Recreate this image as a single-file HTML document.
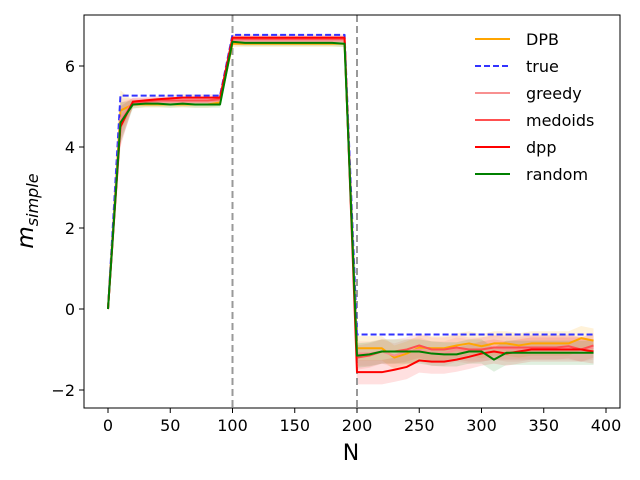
<!DOCTYPE html>
<html><head><meta charset="utf-8"><style>body{margin:0;background:#fff}svg{display:block;font-family:"DejaVu Sans","Liberation Sans",sans-serif}</style></head>
<body>
<svg id="c" width="640" height="480"></svg>
<script>
const xs=[];for(let i=0;i<40;i++)xs.push(i*10);
const trueVals=[0,5.27,5.27,5.27,5.27,5.27,5.27,5.27,5.27,5.27,6.77,6.77,6.77,6.77,6.77,6.77,6.77,6.77,6.77,6.77,-0.63,-0.63,-0.63,-0.63,-0.63,-0.63,-0.63,-0.63,-0.63,-0.63,-0.63,-0.63,-0.63,-0.63,-0.63,-0.63,-0.63,-0.63,-0.63,-0.63];
const dpbVals=[0,4.9,5.05,5.05,5.05,5.05,5.05,5.05,5.05,5.1,6.55,6.55,6.55,6.55,6.55,6.55,6.55,6.55,6.55,6.55,-0.97,-0.97,-0.97,-1.2,-1.1,-0.95,-0.97,-0.97,-0.9,-0.85,-0.92,-0.85,-0.85,-0.9,-0.85,-0.85,-0.85,-0.85,-0.72,-0.78];
const greedyVals=[0,4.7,5.1,5.12,5.12,5.12,5.12,5.12,5.12,5.15,6.65,6.63,6.63,6.63,6.63,6.63,6.63,6.63,6.63,6.63,-1.1,-1.1,-1.05,-1.15,-1.05,-1.0,-1.1,-1.1,-1.0,-1.05,-1.0,-0.95,-1.0,-1.0,-0.95,-0.95,-0.95,-0.95,-1.0,-0.95];
const medoidsVals=[0,4.6,5.1,5.12,5.15,5.15,5.15,5.15,5.15,5.18,6.68,6.67,6.67,6.67,6.67,6.67,6.67,6.67,6.67,6.67,-1.2,-1.15,-1.05,-1.05,-1.0,-0.9,-1.0,-1.0,-0.95,-1.0,-1.0,-0.95,-0.95,-0.95,-0.95,-0.95,-0.95,-0.92,-1.0,-0.9];
const dppVals=[0,4.5,5.12,5.15,5.18,5.2,5.22,5.22,5.22,5.22,6.7,6.7,6.7,6.7,6.7,6.7,6.7,6.7,6.7,6.7,-1.56,-1.56,-1.56,-1.5,-1.43,-1.27,-1.3,-1.3,-1.25,-1.18,-1.1,-1.05,-1.1,-1.05,-1.0,-1.0,-1.0,-1.0,-1.0,-1.05];
const randomVals=[0,4.6,5.05,5.07,5.07,5.05,5.07,5.05,5.05,5.05,6.6,6.57,6.57,6.57,6.57,6.57,6.57,6.57,6.57,6.55,-1.15,-1.12,-1.05,-1.05,-1.05,-1.05,-1.1,-1.12,-1.12,-1.05,-1.05,-1.25,-1.08,-1.08,-1.08,-1.08,-1.08,-1.08,-1.08,-1.08];
const spreadVals=[0,0.5,0.1,0.08,0.08,0.08,0.08,0.08,0.08,0.08,0.08,0.08,0.08,0.08,0.08,0.08,0.08,0.08,0.08,0.08,0.3,0.3,0.3,0.3,0.3,0.3,0.3,0.3,0.3,0.3,0.3,0.3,0.3,0.3,0.3,0.3,0.3,0.3,0.3,0.3];
const xTicks=[0,50,100,150,200,250,300,350,400];
const yTicks=[-2,0,2,4,6];
const vlines=[100,200];
const NS="http://www.w3.org/2000/svg",svg=document.getElementById('c');
const L=84,R=620,T=15,B=408;
const X=v=>108+v*1.245, Y=v=>309-v*40.5;
function el(t,a,p){const e=document.createElementNS(NS,t);for(const k in a)e.setAttribute(k,a[k]);(p||svg).appendChild(e);return e;}
const pts=a=>a.map((v,i)=>X(xs[i])+','+Y(v)).join(' ');
function band(a,col,op,nm){let up=a.map((v,i)=>X(xs[i])+','+Y(v+spreadVals[i])),dn=a.map((v,i)=>X(xs[i])+','+Y(v-spreadVals[i])).reverse();
const p=el('polygon',{points:up.concat(dn).join(' '),fill:col,'fill-opacity':op});

}
band(dpbVals,'orange',0.15,'dpb-band');
band(greedyVals,'#f08080',0.15,'greedy-band');
band(medoidsVals,'#ff4040',0.12,'medoids-band');
band(dppVals,'red',0.12,'dpp-band');
band(randomVals,'green',0.12,'random-band');
vlines.forEach(v=>{const l=el('line',{x1:X(v),x2:X(v),y1:T,y2:B,stroke:'#999','stroke-width':2,'stroke-dasharray':'7,4'});

});
function line(a,col,nm,dash,w){const p=el('polyline',{points:pts(a),fill:'none',stroke:col,'stroke-width':w||2,'stroke-linejoin':'round'});if(dash)p.setAttribute('stroke-dasharray',dash);

}
line(dpbVals,'orange','dpb-line');
line(trueVals,'#3333ff','true-line','6,3');
line(greedyVals,'#f89090','greedy-line');
line(medoidsVals,'#ff5050','medoids-line');
line(dppVals,'red','dpp-line');
line(randomVals,'green','random-line');
const fr=el('rect',{x:L,y:T,width:R-L,height:B-T,fill:'none',stroke:'#000','stroke-width':1});


xTicks.forEach(v=>{el('line',{x1:X(v),x2:X(v),y1:B,y2:B+5,stroke:'#000'});
const t=el('text',{x:X(v),y:B+23,'text-anchor':'middle','font-size':16});t.textContent=v;

});
yTicks.forEach(v=>{el('line',{x1:L-5,x2:L,y1:Y(v),y2:Y(v),stroke:'#000'});
const t=el('text',{x:L-9,y:Y(v)+6,'text-anchor':'end','font-size':16});t.textContent=v<0?'\u2212'+(-v):v;

});
const xl=el('text',{x:351,y:460,'text-anchor':'middle','font-size':22});xl.textContent='N';


const yl=el('text',{transform:'translate(33,211) rotate(-90)','text-anchor':'middle','font-size':23,'font-style':'italic'});
yl.innerHTML='m<tspan font-size="16" dy="5">simple</tspan>';


const leg=[['DPB','orange',null],['true','#3333ff','6,3'],['greedy','#f89090',null],['medoids','#ff5050',null],['dpp','red',null],['random','green',null]];
leg.forEach((d,i)=>{const g=el('g',{});


const y=39+i*27;const l=el('line',{x1:475,x2:510,y1:y,y2:y,stroke:d[1],'stroke-width':2},g);if(d[2])l.setAttribute('stroke-dasharray',d[2]);
const t=el('text',{x:526,y:y+6,'font-size':16},g);t.textContent=d[0];});
</script>
</body></html>
